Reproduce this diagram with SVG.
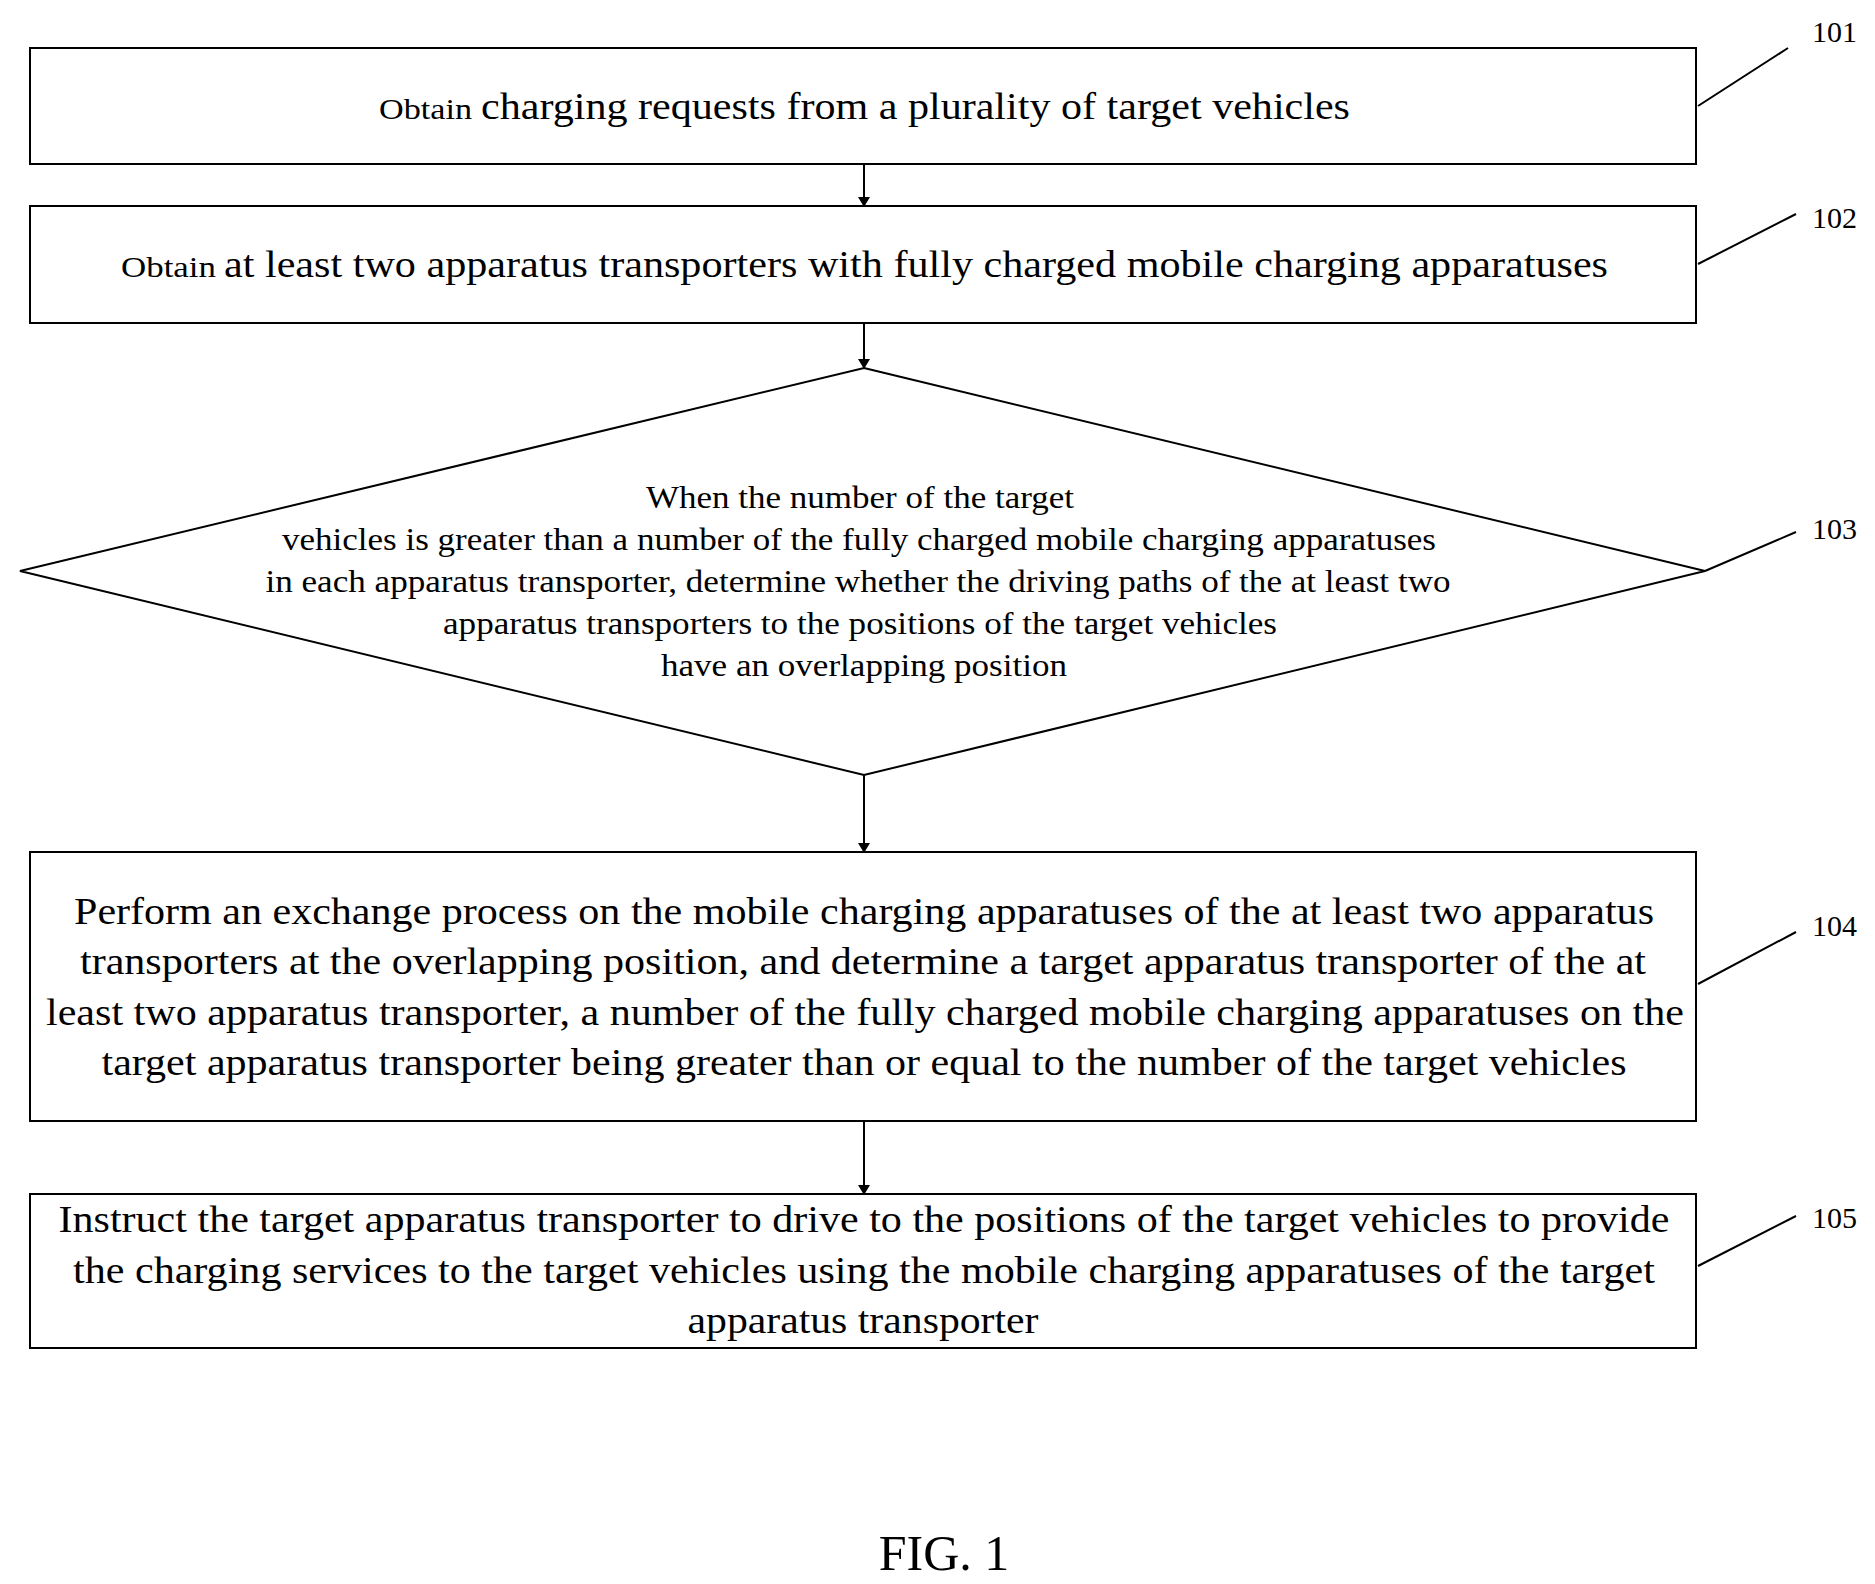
<svg xmlns="http://www.w3.org/2000/svg" width="1875" height="1584" viewBox="0 0 1875 1584">
<style>
.n{fill:#fff;stroke:#000;stroke-width:2}
.t{font-family:"Liberation Serif",serif;fill:#000}
.b{font-size:38px}
.d{font-size:31px}
.s{font-size:30px}
.c{stroke:#000;stroke-width:2;fill:none}
</style>
<defs><marker id="a" markerWidth="10" markerHeight="12" refX="9" refY="6" orient="auto" markerUnits="userSpaceOnUse"><path d="M0,0 L10,6 L0,12 z" fill="#000"/></marker></defs>
<rect width="1875" height="1584" fill="#fff"/>
<g id="connectors">
<line class="c" x1="864" y1="164" x2="864" y2="206" marker-end="url(#a)"/>
<line class="c" x1="864" y1="323" x2="864" y2="368" marker-end="url(#a)"/>
<line class="c" x1="864" y1="775" x2="864" y2="852" marker-end="url(#a)"/>
<line class="c" x1="864" y1="1121" x2="864" y2="1194" marker-end="url(#a)"/>
<line class="c" x1="1698" y1="106" x2="1788" y2="48"/>
<line class="c" x1="1698" y1="264" x2="1796" y2="214"/>
<line class="c" x1="1705" y1="571" x2="1796" y2="532"/>
<line class="c" x1="1698" y1="984" x2="1796" y2="932"/>
<line class="c" x1="1698" y1="1266" x2="1796" y2="1216"/>
</g>
<g id="n101"><rect class="n" x="30" y="48" width="1666" height="116"/>
<text class="t" y="119"><tspan x="379" font-size="30" textLength="93" lengthAdjust="spacingAndGlyphs">Obtain</tspan><tspan x="481" font-size="38" textLength="869" lengthAdjust="spacingAndGlyphs">charging requests from a plurality of target vehicles</tspan></text>
<text class="t s" x="1812" y="42">101</text></g>
<g id="n102"><rect class="n" x="30" y="206" width="1666" height="117"/>
<text class="t" y="277"><tspan x="121" font-size="30" textLength="95" lengthAdjust="spacingAndGlyphs">Obtain</tspan><tspan x="224" font-size="38" textLength="1384" lengthAdjust="spacingAndGlyphs">at least two apparatus transporters with fully charged mobile charging apparatuses</tspan></text>
<text class="t s" x="1812" y="228">102</text></g>
<g id="n103"><polygon class="n" points="864,368 1705,571 864,775 20,571"/>
<g class="t d" text-anchor="middle" lengthAdjust="spacingAndGlyphs">
<text x="860" y="508" textLength="428" lengthAdjust="spacingAndGlyphs">When the number of the target</text>
<text x="859" y="550" textLength="1154" lengthAdjust="spacingAndGlyphs">vehicles is greater than a number of the fully charged mobile charging apparatuses</text>
<text x="858" y="592" textLength="1185" lengthAdjust="spacingAndGlyphs">in each apparatus transporter, determine whether the driving paths of the at least two</text>
<text x="860" y="634" textLength="834" lengthAdjust="spacingAndGlyphs">apparatus transporters to the positions of the target vehicles</text>
<text x="864" y="676" textLength="406" lengthAdjust="spacingAndGlyphs">have an overlapping position</text>
</g>
<text class="t s" x="1812" y="539">103</text></g>
<g id="n104"><rect class="n" x="30" y="852" width="1666" height="269"/>
<g class="t b" text-anchor="middle">
<text x="864" y="924" textLength="1580" lengthAdjust="spacingAndGlyphs">Perform an exchange process on the mobile charging apparatuses of the at least two apparatus</text>
<text x="863" y="974" textLength="1566" lengthAdjust="spacingAndGlyphs">transporters at the overlapping position, and determine a target apparatus transporter of the at</text>
<text x="865" y="1025" textLength="1638" lengthAdjust="spacingAndGlyphs">least two apparatus transporter, a number of the fully charged mobile charging apparatuses on the</text>
<text x="864" y="1075" textLength="1525" lengthAdjust="spacingAndGlyphs">target apparatus transporter being greater than or equal to the number of the target vehicles</text>
</g>
<text class="t s" x="1812" y="936">104</text></g>
<g id="n105"><rect class="n" x="30" y="1194" width="1666" height="154"/>
<g class="t b" text-anchor="middle">
<text x="864" y="1232" textLength="1611" lengthAdjust="spacingAndGlyphs">Instruct the target apparatus transporter to drive to the positions of the target vehicles to provide</text>
<text x="864" y="1283" textLength="1582" lengthAdjust="spacingAndGlyphs">the charging services to the target vehicles using the mobile charging apparatuses of the target</text>
<text x="863" y="1333" textLength="351" lengthAdjust="spacingAndGlyphs">apparatus transporter</text>
</g>
<text class="t s" x="1812" y="1228">105</text></g>
<text class="t" x="944" y="1570" font-size="50" text-anchor="middle">FIG. 1</text>
</svg>
